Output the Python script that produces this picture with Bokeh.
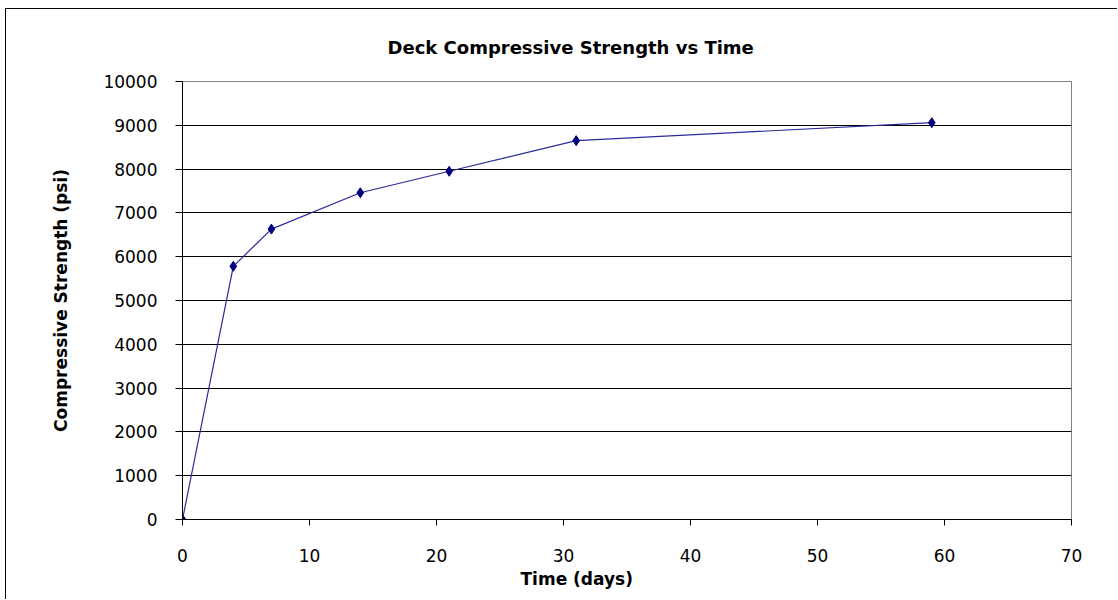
from bokeh.plotting import figure
from bokeh.models import FixedTicker, Title, ColumnDataSource, Range1d
from bokeh.embed import file_html
from bokeh.resources import INLINE

# Deck compressive strength test results
days = [0, 4, 7, 14, 21, 31, 59]
strength_psi = [0, 5780, 6630, 7460, 7950, 8650, 9060]

x_ticks = [0, 10, 20, 30, 40, 50, 60, 70]
y_ticks = [0, 1000, 2000, 3000, 4000, 5000, 6000, 7000, 8000, 9000, 10000]
grid_lines = [1000, 2000, 3000, 4000, 5000, 6000, 7000, 8000, 9000]

FONT = "DejaVu Sans"

src = ColumnDataSource(data=dict(x=days, y=strength_psi))

p = figure(
    width=1112, height=591,
    output_backend="svg", toolbar_location=None,
    x_range=Range1d(0, 70), y_range=Range1d(0, 10000),
    min_border_left=176, min_border_right=47,
    min_border_top=72, min_border_bottom=81,
    styles={"margin-left": "5px", "margin-top": "8px",
            "border-left": "1px solid black", "border-top": "1px solid black"},
)

p.background_fill_color = "white"
p.border_fill_color = "white"
p.outline_line_color = "#808080"
p.outline_line_width = 1

# title, placed over the whole chart area rather than centred on the frame
t = Title(text="Deck Compressive Strength vs Time", align="left", offset=205,
          text_font=FONT, text_font_size="18px", text_font_style="bold",
          text_color="black", standoff=47)
p.add_layout(t, "above")

# axes
for ax in (p.xaxis[0], p.yaxis[0]):
    ax.axis_line_color = "black"
    ax.major_tick_line_color = "black"
    ax.minor_tick_line_color = None
    ax.major_tick_in = 0
    ax.major_label_text_font = FONT
    ax.major_label_text_font_size = "17px"
    ax.major_label_text_color = "black"

p.xaxis[0].ticker = FixedTicker(ticks=x_ticks)
p.xaxis[0].major_tick_out = 6
p.xaxis[0].major_label_standoff = 23

p.yaxis[0].ticker = FixedTicker(ticks=y_ticks)
p.yaxis[0].major_tick_out = 7
p.yaxis[0].major_label_standoff = 18
p.yaxis[0].axis_label = "Compressive Strength (psi)"
p.yaxis[0].axis_label_text_font = FONT
p.yaxis[0].axis_label_text_font_size = "17px"
p.yaxis[0].axis_label_text_font_style = "bold"
p.yaxis[0].axis_label_text_color = "black"
p.yaxis[0].axis_label_standoff = 29

xl = Title(text="Time (days)", align="left", offset=338,
           text_font=FONT, text_font_size="17px", text_font_style="bold",
           text_color="black", standoff=5)
p.add_layout(xl, "below")

# gridlines
p.xgrid.grid_line_color = None
p.ygrid.ticker = FixedTicker(ticks=grid_lines)
p.ygrid.grid_line_color = "black"
p.ygrid.grid_line_width = 1
p.ygrid.grid_line_alpha = 1

# data series
p.line("x", "y", source=src, line_color="#2a2a9a", line_width=1.2)
p.scatter("x", "y", source=src, marker="diamond", size=10,
          fill_color="#000080", line_color="#000080")

open("out.html", "w").write(file_html(p, INLINE))
